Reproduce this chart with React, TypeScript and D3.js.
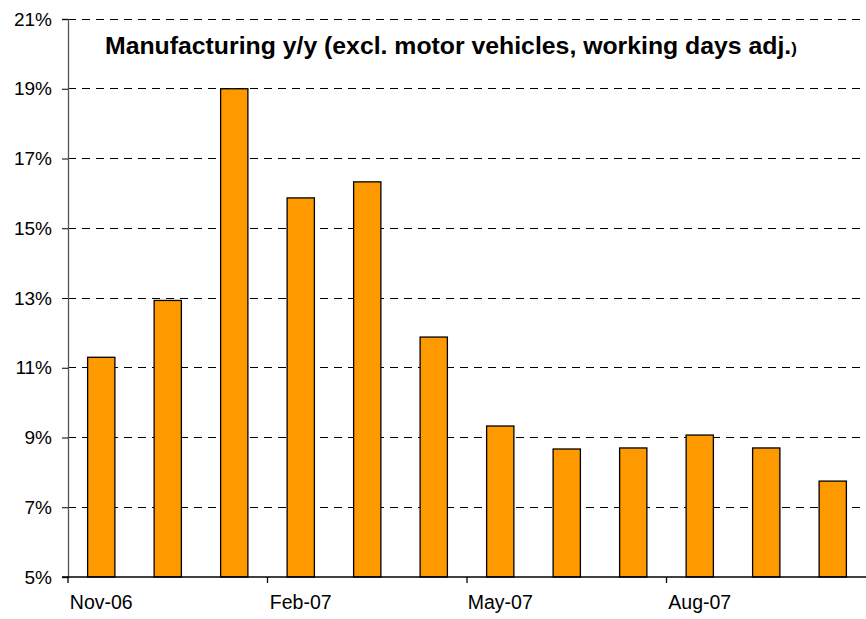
import React, { useEffect, useRef } from "react";
import * as d3 from "d3";

const months = ["Nov-06", "Dec-06", "Jan-07", "Feb-07", "Mar-07", "Apr-07", "May-07", "Jun-07", "Jul-07", "Aug-07", "Sep-07", "Oct-07"];
const growth = [11.3, 12.93, 19.0, 15.87, 16.33, 11.88, 9.33, 8.67, 8.7, 9.07, 8.7, 7.75];
const shownLabels = ["Nov-06", "Feb-07", "May-07", "Aug-07"];
const yTicks = [5, 7, 9, 11, 13, 15, 17, 19, 21];

function App() {
  const ref = useRef(null);

  useEffect(() => {
    const width = 866;
    const height = 619;
    const margin = { top: 19, right: 0, bottom: 42, left: 68 };
    const font = "'Liberation Sans', Arial, sans-serif";

    d3.select(ref.current).select("svg").remove();

    const svg = d3
      .select(ref.current)
      .append("svg")
      .attr("width", width)
      .attr("height", height)
      .style("position", "absolute")
      .style("left", "0px")
      .style("top", "0px")
      .style("background", "#fff");

    const x = d3
      .scaleBand()
      .domain(months)
      .range([margin.left, width - margin.right])
      .padding(0);

    const y = d3
      .scaleLinear()
      .domain([5, 21])
      .range([height - margin.bottom, margin.top]);

    // gridlines
    svg
      .selectAll("line.grid")
      .data(yTicks.slice(1))
      .enter()
      .append("line")
      .attr("x1", margin.left)
      .attr("x2", width)
      .attr("y1", (d) => y(d))
      .attr("y2", (d) => y(d))
      .attr("stroke", "#000")
      .attr("stroke-width", 1)
      .attr("stroke-dasharray", "8,6")
      .attr("shape-rendering", "crispEdges");

    // bars
    const barW = x.bandwidth() * 0.41;
    svg
      .selectAll("rect.bar")
      .data(growth)
      .enter()
      .append("rect")
      .attr("x", (d, i) => x(months[i]) + (x.bandwidth() - barW) / 2)
      .attr("y", (d) => y(d))
      .attr("width", barW)
      .attr("height", (d) => y(5) - y(d))
      .attr("fill", "#ff9900")
      .attr("stroke", "#000")
      .attr("stroke-width", 1.3);

    // y axis
    const yAxis = svg
      .append("g")
      .attr("transform", `translate(${margin.left},0)`)
      .call(
        d3
          .axisLeft(y)
          .tickValues(yTicks)
          .tickSize(6)
          .tickPadding(10)
          .tickFormat((d) => `${d}%`)
      );
    yAxis.select(".domain").attr("stroke", "#555").attr("stroke-width", 1.3);
    yAxis.selectAll(".tick line").attr("stroke", "#000");
    yAxis
      .selectAll(".tick text")
      .attr("font-family", font)
      .attr("font-size", 19)
      .attr("fill", "#000");

    // x axis
    const xAxis = svg
      .append("g")
      .attr("transform", `translate(0,${y(5)})`)
      .call(d3.axisBottom(x).tickSize(0).tickPadding(0).tickValues(shownLabels));
    xAxis.select(".domain").remove();
    svg
      .append("line")
      .attr("x1", margin.left - 6)
      .attr("x2", width)
      .attr("y1", y(5))
      .attr("y2", y(5))
      .attr("stroke", "#000")
      .attr("stroke-width", 1.3);
    xAxis
      .selectAll(".tick text")
      .attr("font-family", font)
      .attr("font-size", 19.5)
      .attr("fill", "#000")
      .attr("dy", "1.65em");

    // tick marks between quarters
    svg
      .selectAll("line.xtick")
      .data(shownLabels)
      .enter()
      .append("line")
      .attr("x1", (d) => x(d))
      .attr("x2", (d) => x(d))
      .attr("y1", y(5))
      .attr("y2", y(5) + 6)
      .attr("stroke", "#000")
      .attr("stroke-width", 1.3);

    // title
    const title = svg
      .append("text")
      .attr("x", 105)
      .attr("y", 54)
      .attr("font-family", font)
      .attr("font-weight", "bold")
      .attr("font-size", 24.8)
      .attr("fill", "#000");
    title.append("tspan").text("Manufacturing y/y (excl. motor vehicles, working days adj.");
    title.append("tspan").attr("font-size", 17).text(")");
  }, []);

  return <div ref={ref}></div>;
}

export default App;
